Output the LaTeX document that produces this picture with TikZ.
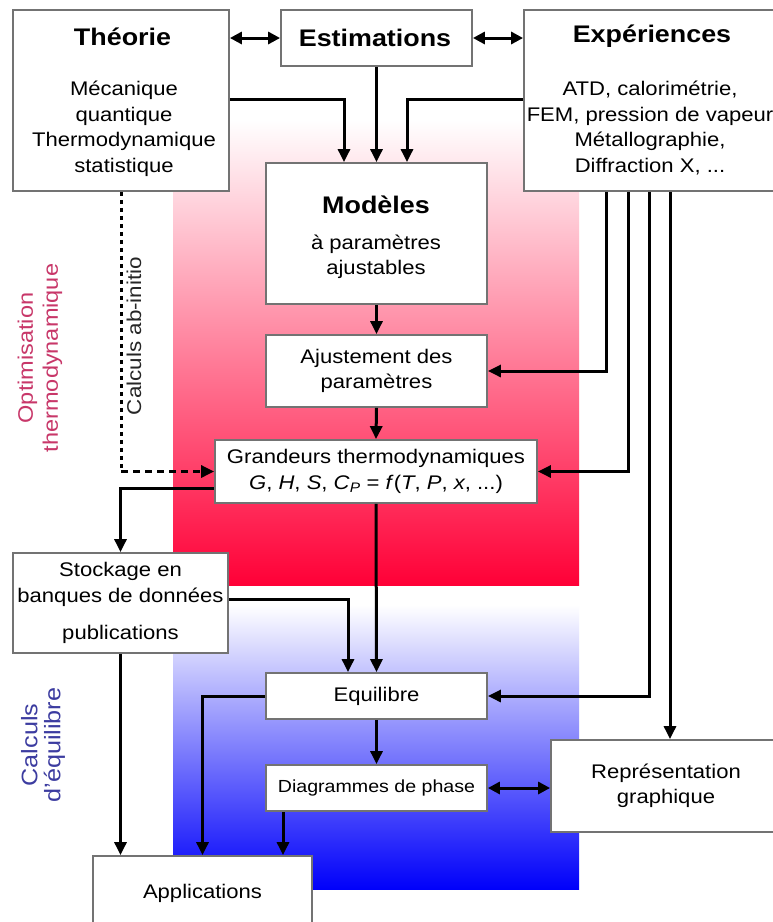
\documentclass[tikz,border=0pt]{standalone}
\usepackage{fontspec}
\setmainfont{Liberation Sans}[FakeStretch=1.12]
\usetikzlibrary{arrows.meta,calc}
\definecolor{boxline}{RGB}{115,115,115}
\definecolor{optcol}{RGB}{200,55,105}
\definecolor{eqcol}{RGB}{60,60,160}
\definecolor{redbot}{RGB}{255,0,55}
\definecolor{redmid}{RGB}{242,95,128}
\definecolor{bluebot}{RGB}{0,0,250}
\begin{document}
\begin{tikzpicture}[x=1pt,y=-1pt,
  box/.style={draw=boxline,line width=1.8pt,fill=white,inner sep=0pt,align=center,
              font=\fontsize{19.7}{25.5}\selectfont},
  txt/.style={align=center,inner sep=0pt,font=\fontsize{19.7}{25.5}\selectfont},
  ttl/.style={align=center,inner sep=0pt,font=\fontsize{24}{28}\selectfont\bfseries},
  conn/.style={line width=3pt,draw=black},
  arr/.style={conn,-{Triangle[length=13pt,width=12pt]}},
  dbl/.style={conn,{Triangle[length=12pt,width=12pt]}-{Triangle[length=12pt,width=12pt]}},
]
\fill[white] (0,0) rectangle (772,922);
\useasboundingbox (0,0) rectangle (772,922);

% coloured backgrounds
\shade[top color=white, middle color=redmid, bottom color=redbot] (173,120) rectangle (579,585);
\shade[top color=white, bottom color=bluebot] (173,605) rectangle (579,889);

% side labels
\node[rotate=90, align=center, text=optcol, inner sep=0pt,
      font=\fontsize{21}{25}\selectfont] (optlbl) at (40,358) {Optimisation\\thermodynamique};
\node[rotate=90, text=black!85, inner sep=0pt,
      font=\fontsize{20}{24}\selectfont] (abinit) at (134,336) {Calculs ab-initio};
\node[rotate=90, align=center, text=eqcol, inner sep=0pt,
      font=\fontsize{22.5}{23}\selectfont] (eqlbl) at (43,745) {Calculs\\d{\char"27}équilibre};

% boxes
\node[box,minimum width=216pt,minimum height=181pt] (theo) at (121,100.5) {};
\node[box,minimum width=191pt,minimum height=56pt] (est) at (376.5,38) {};
\node[box,minimum width=257pt,minimum height=181pt] (expe) at (652.5,100.5) {};
\node[box,minimum width=221pt,minimum height=141pt] (mod) at (376.5,233.5) {};
\node[box,minimum width=221pt,minimum height=72pt] (ajust) at (376.5,371) {Ajustement des\\paramètres};
\node[box,minimum width=322pt,minimum height=63pt] (grand) at (376,471.5)
  {Grandeurs thermodynamiques\\\textit{G}, \textit{H}, \textit{S}, \textit{C}\textsubscript{\textit{P}} = \textit{f}(\textit{T}, \textit{P}, \textit{x}, ...)};
\node[box,minimum width=215pt,minimum height=100pt] (stock) at (120.5,603)
  {Stockage en\\banques de données\\[12pt]publications};
\node[box,minimum width=221pt,minimum height=46pt] (equi) at (376.5,696) {Equilibre};
\node[box,minimum width=221pt,minimum height=46pt,font=\fontsize{17.5}{21}\selectfont] (diag) at (376.5,788) {Diagrammes de phase};
\node[box,minimum width=230pt,minimum height=92pt] (repr) at (666,786) {Représentation\\graphique};
\node[box,minimum width=219pt,minimum height=74pt] (appl) at (202.5,893) {Applications};

% texts inside the large boxes
\node[ttl] (theoT) at (122.5,37) {Théorie};
\node[txt] (theoB) at (124,129) {Mécanique\\quantique\\Thermodynamique\\statistique};
\node[ttl] (estT) at (375,38) {Estimations};
\node[ttl] (expeT) at (652,36) {Expériences};
\node[txt] (expeB) at (650,128) {ATD, calorimétrie,\\FEM, pression de vapeur\\Métallographie,\\Diffraction X, ...};
\node[ttl] (modT) at (376,205) {Modèles};
\node[txt] (modB) at (376,257) {à paramètres\\ajustables};

% connectors
\draw[dbl] (theo.east |- est) -- (est.west);
\draw[dbl] (est.east) -- (expe.west |- est);
\draw[arr] (est.south) -- (mod.north);
\draw[arr] (theo.east |- 0,99) -| ([xshift=-32.5pt]mod.north);
\draw[arr] (expe.west |- 0,99) -| ([xshift=30.5pt]mod.north);
\draw[arr] (mod.south) -- (ajust.north);
\draw[arr] (ajust.south) -- (grand.north);
\draw[arr] (expe.south -| 606,0) |- (ajust.east);
\draw[arr] (expe.south -| 628,0) |- (grand.east);
\draw[arr] (expe.south -| 649,0) |- (equi.east);
\draw[arr] (expe.south -| 670,0) -- (repr.north -| 670,0);

\coordinate (abcorner) at (theo.south |- grand.west);
\draw[conn,dash pattern=on 4pt off 4pt] (theo.south) -- (abcorner);
\draw[arr,dash pattern=on 7pt off 5pt] (abcorner) -- (grand.west);

\draw[arr] (grand.west |- 0,488) -| (stock.north);
\draw[arr] (stock.east |- 0,599) -| (equi.north -| 348,0);
\draw[arr] (grand.south) -- (equi.north);
\draw[arr] (equi.west) -| (appl.north);
\draw[arr] (stock.south) -- (stock.south |- appl.north);
\draw[arr] (equi.south) -- (diag.north);
\draw[arr] (diag.south -| 283,0) -- (appl.north -| 283,0);
\draw[dbl] (diag.east) -- (repr.west |- diag.east);
\end{tikzpicture}
\end{document}
